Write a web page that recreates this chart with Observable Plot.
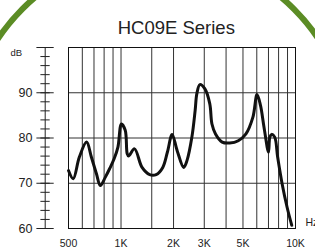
<!DOCTYPE html>
<html><head><meta charset="utf-8">
<script src="https://cdn.jsdelivr.net/npm/d3@7"></script>
<script src="https://cdn.jsdelivr.net/npm/@observablehq/plot@0.6"></script>
<style>
html,body{margin:0;padding:0;background:#fff;overflow:hidden;}
</style>
</head><body>
<div id="chart"></div>
<script>
const title = "HC09E Series";
const xUnit = "Hz";
const yUnit = "dB";
const xDomain = [500, 10000];
const yDomain = [60, 100];
const freqs = [500, 532, 577, 635, 676, 723, 761, 812, 860, 913, 960, 1005, 1057, 1085, 1105, 1195, 1320, 1460, 1590, 1735, 1845, 1963, 2098, 2286, 2388, 2548, 2660, 2720, 2830, 3020, 3225, 3320, 3480, 3800, 4200, 4700, 5200, 5700, 6020, 6300, 6600, 7000, 7130, 7300, 7600, 7900, 8380, 8950, 9520];
const dbs   = [72.8, 71.0, 75.8, 79.1, 75.8, 72.1, 69.5, 71.3, 73.2, 75.4, 78.0, 83.1, 81.7, 76.5, 76.0, 77.6, 73.5, 71.9, 71.9, 73.5, 76.9, 80.8, 77.2, 73.5, 75.0, 80.2, 86.1, 89.8, 91.8, 90.9, 87.6, 83.1, 80.9, 79.1, 78.9, 79.4, 80.9, 84.6, 89.6, 87.2, 82.4, 76.9, 80.2, 80.8, 80.2, 75.8, 69.9, 64.7, 60.7];
const gridFreqs = [600, 700, 800, 900, 1000, 1500, 2000, 3000, 4000, 5000, 6000, 7000, 8000, 9000];
const gridDb = [70, 80, 90];
const xTicks = [500, 1000, 2000, 3000, 5000, 10000];
const xTickLabels = ["500", "1K", "2K", "3K", "5K", "10K"];
const yMajor = [60, 70, 80, 90, 100];
const yLabels = [60, 70, 80, 90];
const yMinor = d3.range(60, 101, 2);

const curve = freqs.map((f, i) => ({f, db: dbs[i]}));
const xLab = new Map(xTicks.map((t, i) => [t, xTickLabels[i]]));

// decorative green ring (brand frame) drawn behind everything
function ring(index, scales, values, dim) {
  const c = d3.create("svg:circle")
    .attr("cx", dim.width * 0.502).attr("cy", dim.height * 0.582)
    .attr("r", dim.width * 0.61)
    .attr("fill", "none").attr("stroke", "#5b8c25").attr("stroke-width", 6);
  return c.node();
}

const chart = Plot.plot({
  width: 315, height: 249,
  marginLeft: 68, marginRight: 20, marginTop: 47, marginBottom: 21,
  style: {fontFamily: "'Liberation Sans', Arial, sans-serif", color: "#222", background: "white"},
  x: {type: "log", domain: xDomain},
  y: {domain: yDomain},
  marks: [
    ring,
    Plot.ruleX(gridFreqs, {stroke: "#333", strokeWidth: 1}),
    Plot.ruleY(gridDb, {stroke: "#333", strokeWidth: 1}),
    Plot.frame({stroke: "#111", strokeWidth: 1}),
    Plot.ruleX([xDomain[0]], {dx: -23.3, stroke: "#222"}),
    Plot.axisY({ticks: yMinor, text: null, label: null, tickSize: 9.3, dx: -18.3, stroke: "#222"}),
    Plot.axisY({ticks: yMajor, label: null, tickSize: 17.3, dx: -14.3, stroke: "#222", tickFormat: d => yLabels.includes(d) ? String(d) : "", tickPadding: 4.5, fontSize: 12.5}),
    Plot.axisX({ticks: xTicks, label: null, tickFormat: d => xLab.get(d), tickSize: 0, tickPadding: 11, fontSize: 10.5}),
    Plot.text([yUnit], {frameAnchor: "top-left", dx: -58, dy: 2, textAnchor: "start", fontSize: 9.5}),
    Plot.text([xUnit], {frameAnchor: "bottom-right", dx: 10, dy: -3, textAnchor: "start", fontSize: 10.5}),
    Plot.text([title], {frameAnchor: "top", dx: -5.7, dy: -26.7, fontSize: 18.5, fill: "#222"}),
    Plot.line(curve, {x: "f", y: "db", curve: "catmull-rom", stroke: "#111", strokeWidth: 3, strokeLinejoin: "round", strokeLinecap: "round"})
  ]
});
document.getElementById("chart").appendChild(chart);
</script>
</body></html>
